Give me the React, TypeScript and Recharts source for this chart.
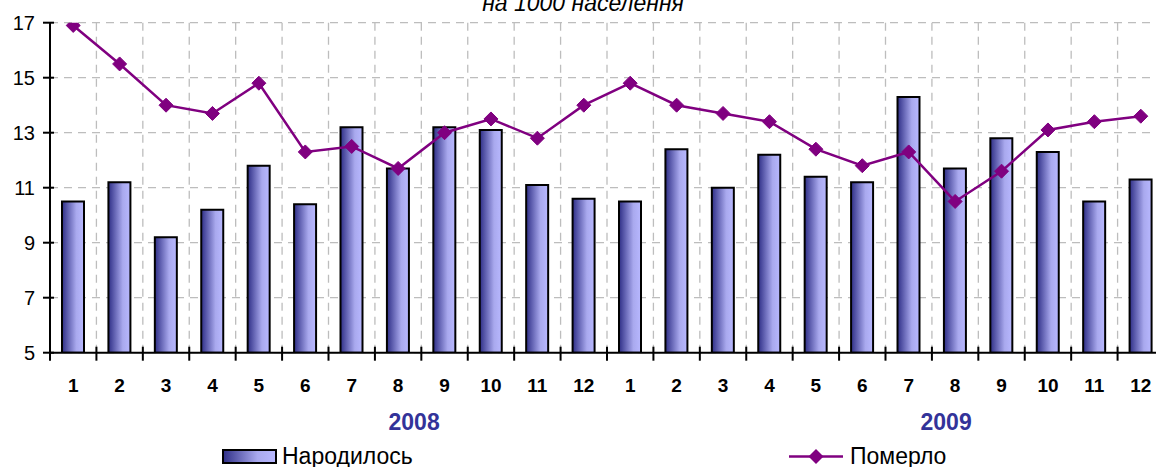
import React from "react";
import { ComposedChart, Bar, Line, XAxis, YAxis, CartesianGrid } from "recharts";

// month labels for 2008 and 2009
const months = ["1", "2", "3", "4", "5", "6", "7", "8", "9", "10", "11", "12", "1", "2", "3", "4", "5", "6", "7", "8", "9", "10", "11", "12"];
// born per 1000 population
const born = [10.5, 11.2, 9.2, 10.2, 11.8, 10.4, 13.2, 11.7, 13.2, 13.1, 11.1, 10.6, 10.5, 12.4, 11.0, 12.2, 11.4, 11.2, 14.3, 11.7, 12.8, 12.3, 10.5, 11.3];
// died per 1000 population
const died = [16.9, 15.5, 14.0, 13.7, 14.8, 12.3, 12.5, 11.7, 13.0, 13.5, 12.8, 14.0, 14.8, 14.0, 13.7, 13.4, 12.4, 11.8, 12.3, 10.5, 11.6, 13.1, 13.4, 13.6];
const yTicks = [5, 7, 9, 11, 13, 15, 17];
const years = [
  { label: "2008", at: 7, dx: 16 },
  { label: "2009", at: 19, dx: -9 },
];

const data = months.map((m, i) => ({ month: m, born: born[i], died: died[i] }));

const FONT = "'Liberation Sans', Arial, sans-serif";
const CHART_W = 1166;
const CHART_H = 467;
const LEFT = 50;
const RIGHT = 2;
const BW = (CHART_W - LEFT - RIGHT) / months.length;
const PURPLE = "#800080";

const XTick = (props: any) => {
  const { x, y, payload, index } = props;
  const year = years.find((yr) => yr.at === index);
  return (
    <g>
      {index === 0 && <line x1={x - BW / 2} x2={x - BW / 2} y1={y - 6} y2={y + 8} stroke="#000" strokeWidth={2} />}
      <line x1={x + BW / 2} x2={x + BW / 2} y1={y - 6} y2={y + 8} stroke="#000" strokeWidth={2} />
      <text x={x} y={y + 39} textAnchor="middle" fontFamily={FONT} fontSize={19} fontWeight="bold" fill="#000">
        {payload.value}
      </text>
      {year && (
        <text x={x + year.dx} y={y + 77} textAnchor="middle" fontFamily={FONT} fontSize={23} fontWeight="bold" fill="#333399">
          {year.label}
        </text>
      )}
    </g>
  );
};

const YTick = (props: any) => {
  const { x, y, payload } = props;
  return (
    <g>
      <line x1={x - 7} x2={x + 4} y1={y} y2={y} stroke="#000" strokeWidth={2} />
      <text x={x - 15} y={y + 7} textAnchor="end" fontFamily={FONT} fontSize={20} fill="#000">
        {payload.value}
      </text>
    </g>
  );
};

const Diamond = (props: any) => {
  const { cx, cy } = props;
  if (cx == null || cy == null) return null;
  const s = 7;
  return <polygon points={`${cx},${cy - s} ${cx + s},${cy} ${cx},${cy + s} ${cx - s},${cy}`} fill={PURPLE} stroke={PURPLE} strokeWidth={1} />;
};

export default function App(): React.JSX.Element {
  return (
    <div style={{ position: "absolute", left: 0, top: 0, width: 1156, height: 467, overflow: "hidden", background: "#fff" }}>
      <ComposedChart
        width={CHART_W}
        height={CHART_H}
        data={data}
        margin={{ top: 22.7, right: RIGHT, bottom: 0, left: 0 }}
        barCategoryGap={0}
      >
        <defs>
          <linearGradient id="bornGrad" x1="0" y1="0" x2="1" y2="0">
            <stop offset="0%" stopColor="#2e2e86" />
            <stop offset="65%" stopColor="#a9a9ee" />
            <stop offset="100%" stopColor="#b8b8ff" />
          </linearGradient>
        </defs>
        <CartesianGrid
          stroke="#bdbdbd"
          strokeDasharray="8 6"
          strokeWidth={1.3}
          verticalCoordinatesGenerator={({ offset }: any) =>
            months.map((_, i) => offset.left + (i + 1) * (offset.width / months.length))
          }
        />
        <XAxis
          dataKey="month"
          height={114.3}
          interval={0}
          tickSize={0}
          tickMargin={0}
          tickLine={false}
          axisLine={{ stroke: "#000", strokeWidth: 2 }}
          tick={<XTick />}
        />
        <YAxis
          width={LEFT}
          domain={[5, 17]}
          ticks={yTicks}
          allowDataOverflow
          tickSize={0}
          tickMargin={0}
          tickLine={false}
          axisLine={{ stroke: "#000", strokeWidth: 2 }}
          tick={<YTick />}
        />
        <Bar dataKey="born" barSize={22} fill="url(#bornGrad)" stroke="#000" strokeWidth={2} isAnimationActive={false} />
        <Line dataKey="died" stroke={PURPLE} strokeWidth={2.5} dot={<Diamond />} activeDot={false} isAnimationActive={false} />
      </ComposedChart>
      <svg width={1156} height={467} style={{ position: "absolute", left: 0, top: 0, pointerEvents: "none" }}>
        <defs>
          <linearGradient id="legendGrad" x1="0" y1="0" x2="1" y2="0">
            <stop offset="0%" stopColor="#2e2e86" />
            <stop offset="65%" stopColor="#a9a9ee" />
            <stop offset="100%" stopColor="#b8b8ff" />
          </linearGradient>
        </defs>
        <text x={583} y={11} textAnchor="middle" fontFamily={FONT} fontSize={23} fontStyle="italic" fill="#000">
          на 1000 населення
        </text>
        <rect x={223} y={450} width={53} height={13} fill="url(#legendGrad)" stroke="#000" strokeWidth={2} />
        <text x={282} y={464} fontFamily={FONT} fontSize={23} fill="#000">
          Народилось
        </text>
        <line x1={789} x2={843} y1={456.5} y2={456.5} stroke={PURPLE} strokeWidth={2.5} />
        <polygon points="816,449 823.5,456.5 816,464 808.5,456.5" fill={PURPLE} />
        <text x={850} y={464} fontFamily={FONT} fontSize={23} fill="#000">
          Померло
        </text>
      </svg>
    </div>
  );
}
